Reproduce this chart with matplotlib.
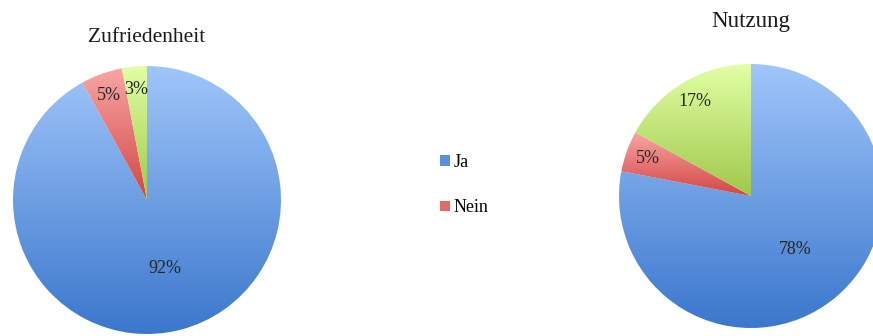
import numpy as np
import matplotlib
matplotlib.use("Agg")
import matplotlib.pyplot as plt
from matplotlib.patches import Patch
from matplotlib.colors import LinearSegmentedColormap

# survey answers in percent: Ja / Nein / rest
categories = ["Ja", "Nein", "Keine Angabe"]
zufriedenheit = [92, 5, 3]
nutzung = [78, 5, 17]

# light (top) -> dark (bottom) shade for every slice colour
shades = [("#a0c6fa", "#3b77cc"),
          ("#f8a6a4", "#d24644"),
          ("#e2ffa4", "#9fc84b")]
mid_cols = ["#5b91dc", "#e06a68", "#bfe27a"]

plt.rcParams['font.family'] = ['Liberation Serif', 'DejaVu Serif']

W, H = 873, 336
fig = plt.figure(figsize=(W / 100, H / 100), dpi=100)


def gradient_pie(cx, cy, r, values, title, title_y, title_size):
    # axes placed so that the pie has centre (cx, cy) and radius r in pixels
    ax = fig.add_axes([(cx - r) / W, (H - cy - r) / H, 2 * r / W, 2 * r / H])
    wedges, _ = ax.pie(values, startangle=90, counterclock=False,
                       colors=mid_cols, radius=1)
    grad = np.linspace(1, 0, 256).reshape(-1, 1)
    for w, (top, bot) in zip(wedges, shades):
        cmap = LinearSegmentedColormap.from_list("s", [bot, top])
        ext = w.get_path().get_extents()
        im = ax.imshow(grad, cmap=cmap, aspect="auto",
                       extent=[ext.x0, ext.x1, ext.y0, ext.y1], zorder=2)
        im.set_clip_path(w)
        w.set_facecolor("none")
        w.set_edgecolor("none")

    total = float(sum(values))
    for w, v in zip(wedges, values):
        ang = np.deg2rad((w.theta1 + w.theta2) / 2)
        d = 0.53 if v / total > 0.5 else 0.83
        ax.text(d * np.cos(ang), d * np.sin(ang), f"{v}%", ha="center",
                va="center", fontsize=13, color="#262626", zorder=3)
    ax.set_xlim(-1, 1)
    ax.set_ylim(-1, 1)
    ax.set_aspect("equal")
    ax.axis("off")
    fig.text(cx / W, 1 - title_y / H, title, ha="center", va="center",
             fontsize=title_size, color="#1a1a1a")
    return ax


gradient_pie(147, 200, 134, zufriedenheit, "Zufriedenheit", 37, 15.5)
gradient_pie(751, 196, 132, nutzung, "Nutzung", 22, 16.5)

handles = [Patch(facecolor=mid_cols[i], edgecolor="none") for i in range(2)]
fig.legend(handles, categories[:2], loc="center left",
           bbox_to_anchor=(433 / W, 1 - 185 / H), frameon=False,
           fontsize=13, handlelength=0.55, handleheight=0.55,
           handletextpad=0.2, labelspacing=1.6, borderaxespad=0)

fig.savefig("out.png", dpi=100)
